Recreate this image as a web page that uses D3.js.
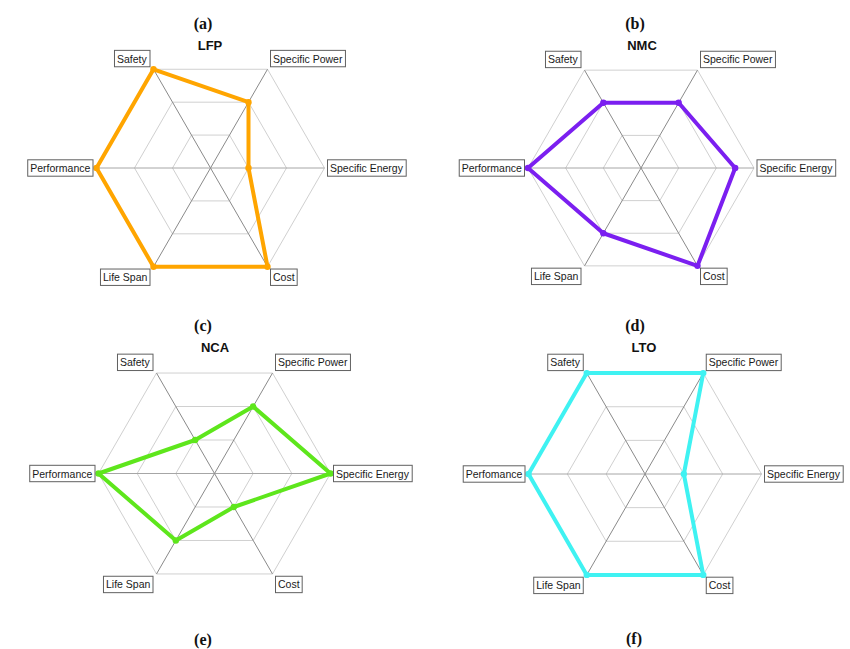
<!DOCTYPE html>
<html>
<head>
<meta charset="utf-8">
<script src="https://cdn.jsdelivr.net/npm/d3@7"></script>
<style>
  body { margin: 0; background: #fff; }
  svg { display: block; }
</style>
</head>
<body>
<script>
const width = 850;
const height = 649;

// axis names, going round anticlockwise from the right
const axes = ["Specific Energy", "Specific Power", "Safety", "Performance", "Life Span", "Cost"];
// the LTO panel spells one axis differently in the original
const axesLto = ["Specific Energy", "Specific Power", "Safety", "Perfomance", "Life Span", "Cost"];
const levels = [1, 2, 3];

// ratings (0..3)
const lfp = [1, 2, 3, 3, 3, 3];
const nmc = [2.5, 2, 2, 3, 2, 3];
const nca = [3, 2, 1, 3, 2, 1];
const lto = [1, 3, 3, 3, 3, 3];

const names = ["LFP", "NMC", "NCA", "LTO"];
const captions = ["(a)", "(b)", "(c)", "(d)", "(e)", "(f)"];

const panels = [
  { name: names[0], values: lfp, labels: axes, color: "#ffa500", cx: 210.5, cy: 168, r: 114, cap: [203, 29], title: [210, 50] },
  { name: names[1], values: nmc, labels: axes, color: "#7b1ff0", cx: 641, cy: 168, r: 113, cap: [635, 29], title: [642, 50] },
  { name: names[2], values: nca, labels: axes, color: "#5ee61c", cx: 214.5, cy: 473.5, r: 116, cap: [203, 331], title: [215, 352] },
  { name: names[3], values: lto, labels: axesLto, color: "#3ff2f2", cx: 645, cy: 474, r: 116.5, cap: [635, 331], title: [644, 352] },
];

const svg = d3.select("body").append("svg")
  .attr("width", width)
  .attr("height", height);

// angle for lineRadial: 0 = up, clockwise
const angle = (i) => Math.PI / 2 - i * Math.PI / 3;

panels.forEach((p, pi) => {
  const g = svg.append("g").attr("transform", `translate(${p.cx},${p.cy})`);
  const rscale = d3.scaleLinear().domain([0, 3]).range([0, p.r]);

  const ring = d3.lineRadial()
    .angle((d, i) => angle(i))
    .radius((d) => rscale(d))
    .curve(d3.curveLinearClosed);

  // grid hexagons
  g.selectAll(".ring").data(levels).enter().append("path")
    .attr("d", (lv) => ring(axes.map(() => lv)))
    .attr("fill", "none")
    .attr("stroke", "#d0d0d0")
    .attr("stroke-width", 1);

  // spokes
  g.selectAll(".spoke").data(axes).enter().append("line")
    .attr("x1", 0).attr("y1", 0)
    .attr("x2", (d, i) => rscale(3) * Math.sin(angle(i)))
    .attr("y2", (d, i) => -rscale(3) * Math.cos(angle(i)))
    .attr("stroke", (d, i) => (i % 3 === 0 ? "#a6a6a6" : "#8a8a8a"))
    .attr("stroke-width", 1);

  // data polygon
  g.append("path")
    .attr("d", ring(p.values))
    .attr("fill", "none")
    .attr("stroke", p.color)
    .attr("stroke-width", 4)
    .attr("stroke-linejoin", "round");

  g.selectAll(".pt").data(p.values).enter().append("circle")
    .attr("cx", (d, i) => rscale(d) * Math.sin(angle(i)))
    .attr("cy", (d, i) => -rscale(d) * Math.cos(angle(i)))
    .attr("r", 3.2)
    .attr("fill", p.color);

  // boxed axis labels
  p.labels.forEach((name, i) => {
    const vx = rscale(3) * Math.sin(angle(i));
    const vy = -rscale(3) * Math.cos(angle(i));
    const lg = g.append("g");
    const t = lg.append("text")
      .attr("font-family", "Liberation Sans, Arial, sans-serif")
      .attr("font-size", 10.5)
      .attr("fill", "#1a1a1a")
      .text(name);
    const b = t.node().getBBox();
    const padX = 2.5, padY = 2.2;
    const bw = b.width + padX * 2;
    const bh = b.height + padY * 2;
    let left, top;
    if (vx > 1) left = vx + 3;
    else left = vx - 3.5 - bw;
    if (vy < -1) top = vy - 2.5 - bh;
    else if (vy > 1) top = vy + 2.3;
    else top = vy - bh / 2;
    t.attr("x", left + padX - b.x).attr("y", top + padY - b.y);
    lg.insert("rect", "text")
      .attr("x", left).attr("y", top)
      .attr("width", bw).attr("height", bh)
      .attr("fill", "#fff")
      .attr("stroke", "#606060")
      .attr("stroke-width", 1);
  });

  svg.append("text")
    .attr("x", p.title[0]).attr("y", p.title[1])
    .attr("text-anchor", "middle")
    .attr("font-family", "Liberation Sans, Arial, sans-serif")
    .attr("font-weight", "bold")
    .attr("font-size", 13)
    .attr("fill", "#111")
    .text(p.name);

  svg.append("text")
    .attr("x", p.cap[0]).attr("y", p.cap[1])
    .attr("text-anchor", "middle")
    .attr("font-family", "Liberation Serif, serif")
    .attr("font-weight", "bold")
    .attr("font-size", 16)
    .attr("fill", "#111")
    .text(captions[pi]);
});

// bottom captions
svg.append("text")
  .attr("x", 203).attr("y", 645)
  .attr("text-anchor", "middle")
  .attr("font-family", "Liberation Serif, serif")
  .attr("font-weight", "bold")
  .attr("font-size", 16)
  .attr("fill", "#111")
  .text(captions[4]);

svg.append("text")
  .attr("x", 634).attr("y", 644)
  .attr("text-anchor", "middle")
  .attr("font-family", "Liberation Serif, serif")
  .attr("font-weight", "bold")
  .attr("font-size", 16)
  .attr("fill", "#111")
  .text(captions[5]);
</script>
</body>
</html>
